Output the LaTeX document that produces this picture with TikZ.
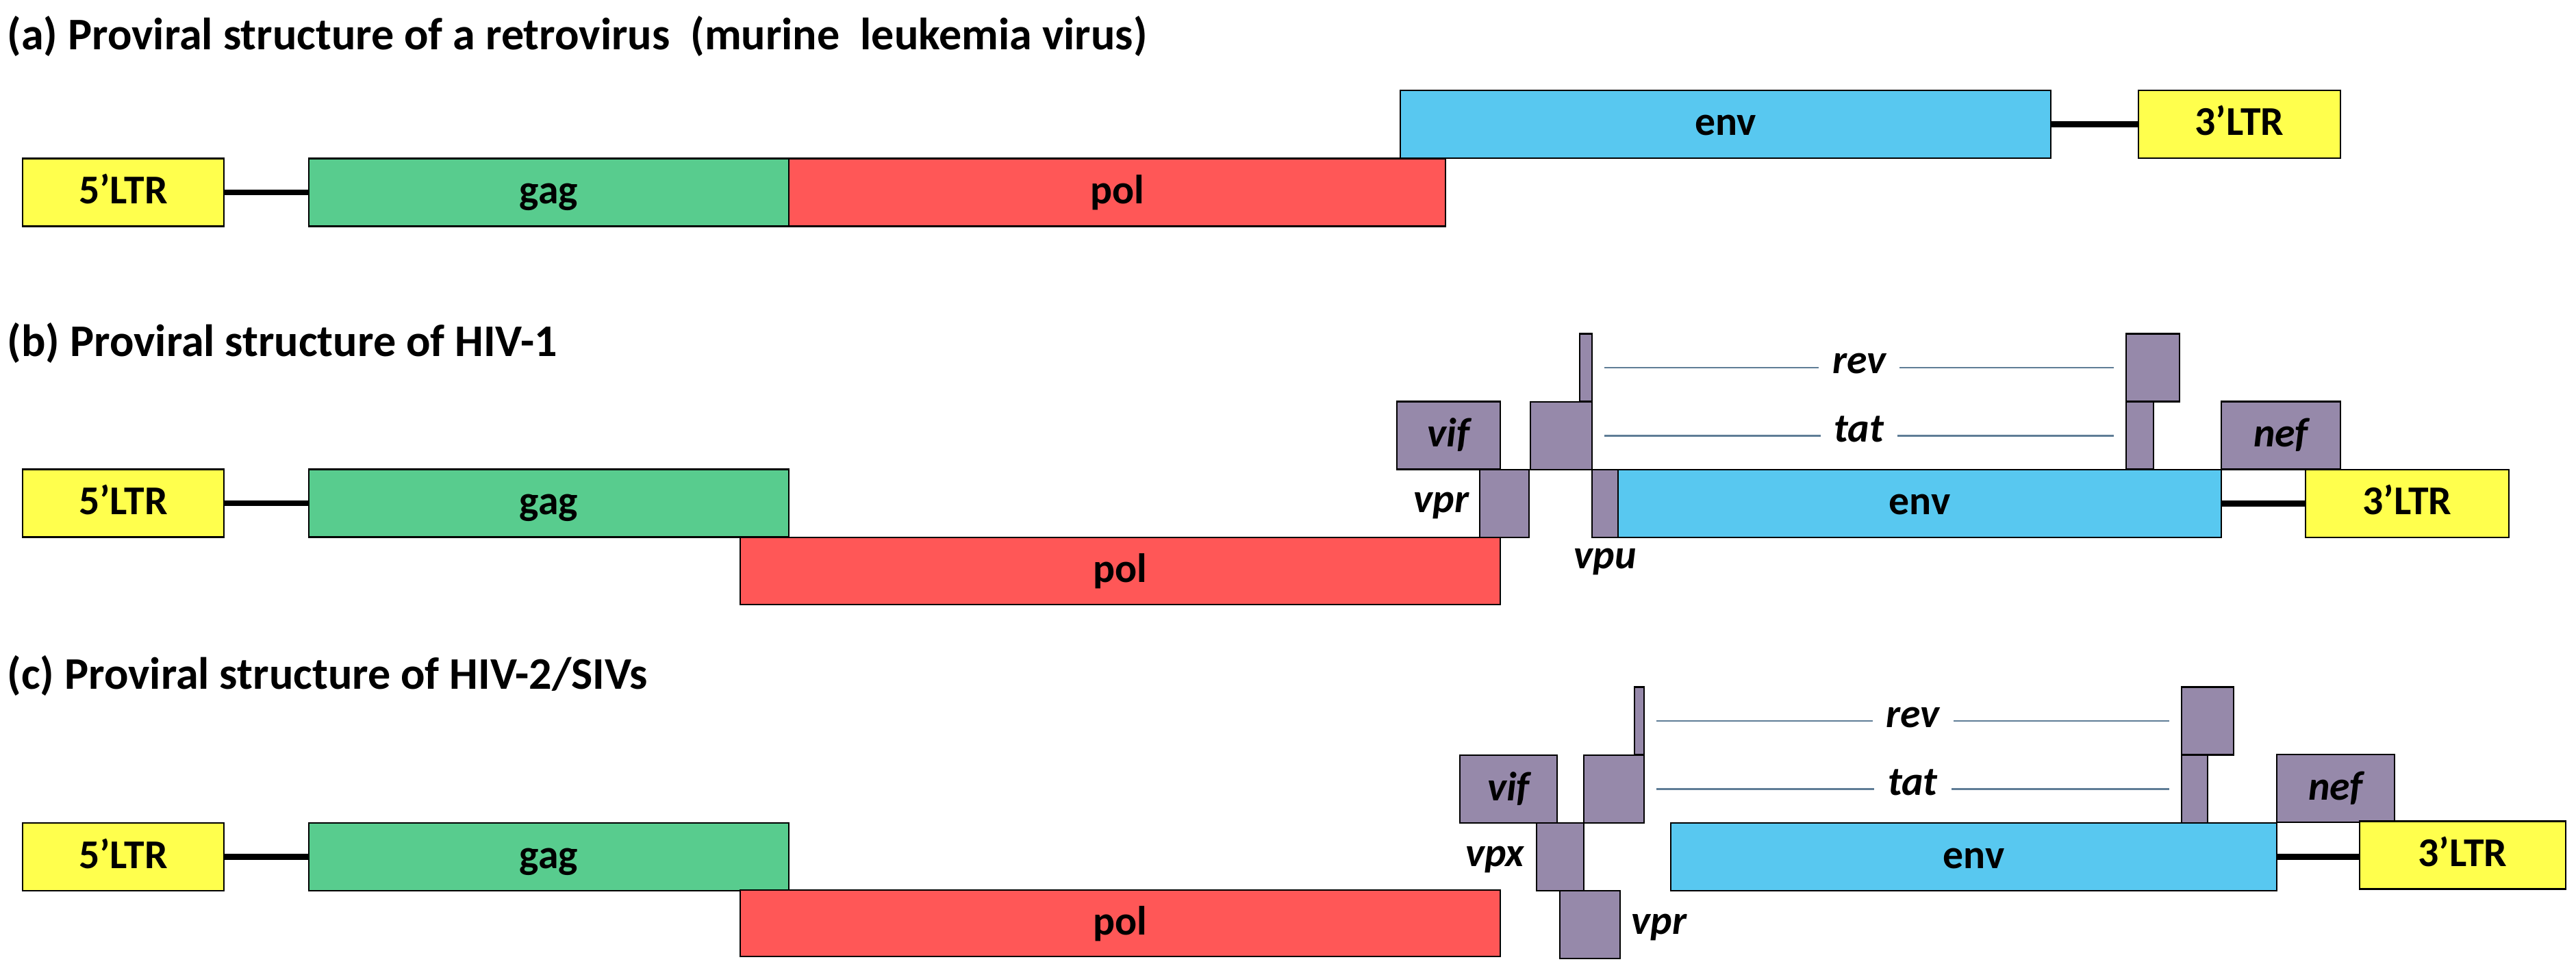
\documentclass[tikz,border=0pt]{standalone}
\usepackage{fontspec}
\setmainfont{Carlito}
\usepackage{tikz}
\usetikzlibrary{positioning}
\usepackage{xcolor}
\definecolor{ltryellow}{RGB}{255,255,77}
\definecolor{gaggreen}{RGB}{88,204,142}
\definecolor{polred}{RGB}{255,87,87}
\definecolor{envblue}{RGB}{88,200,240}
\definecolor{accpurple}{RGB}{150,137,170}
\definecolor{splicegray}{RGB}{95,125,150}

\begin{document}
\begin{tikzpicture}[
    gene/.style={draw, line width=0.6pt, inner sep=0pt, minimum height=0.99cm, text height=0.33cm, text depth=0pt, font=\fontsize{17}{20}\selectfont\bfseries},
    ltr/.style={gene, fill=ltryellow, minimum width=2.94cm},
    gagbox/.style={gene, fill=gaggreen, minimum width=7.01cm},
    polbox/.style={gene, fill=polred},
    envbox/.style={gene, fill=envblue},
    acc/.style={gene, fill=accpurple, font=\fontsize{17}{20}\selectfont\bfseries\itshape},
    acctext/.style={inner sep=0pt, text height=0.27cm, text depth=0pt, text=black, font=\fontsize{17}{20}\selectfont\bfseries\itshape},
    splicetext/.style={acctext, fill=white, inner xsep=0.2cm, text height=0.18cm},
    link/.style={line width=2.3pt},
    splice/.style={line width=0.8pt, color=splicegray, shorten <=0.17cm, shorten >=0.17cm},
    title/.style={anchor=base west, inner sep=0pt, font=\fontsize{18.8}{22}\selectfont\bfseries}
  ]
    \useasboundingbox (0,0) rectangle (37.62,-14.27);

    % (a) murine leukemia virus
    \node[title] (titleA) at (0.10,-0.73) {(a) Proviral structure of a retrovirus~~(murine~~leukemia virus)};
    \node[ltr] (fiveA) at (1.80,-2.81) {5'LTR};
    \node[gagbox] (gagA) at (8.015,-2.81) {gag};
    \node[polbox, minimum width=9.59cm] (polA) at (16.315,-2.81) {pol};
    \node[envbox, minimum width=9.50cm] (envA) at (25.20,-1.815) {env};
    \node[ltr, minimum width=2.95cm] (threeA) at (32.705,-1.815) {3'LTR};
    \draw[link] (fiveA.east) -- (gagA.west);
    \draw[link] (envA.east) -- (threeA.west);

    % (b) HIV-1
    \node[title] (titleB) at (0.10,-5.21) {(b) Proviral structure of HIV-1};
    \node[ltr] (fiveB) at (1.80,-7.35) {5'LTR};
    \node[gagbox] (gagB) at (8.015,-7.35) {gag};
    \node[polbox, minimum width=11.10cm, minimum height=0.98cm] (polB) at (16.36,-8.34) {pol};
    \node[acc, minimum width=1.51cm] (vifB) at (21.155,-6.36) {vif};
    \node[acc, minimum width=0.72cm] (vprB) at (21.97,-7.355) {};
    \node[acc, minimum width=0.90cm] (tatoneB) at (22.80,-6.365) {};
    \node[acc, minimum width=0.18cm] (revoneB) at (23.16,-5.37) {};
    \node[acc, minimum width=0.38cm] (vpuB) at (23.44,-7.355) {};
    \node[envbox, minimum width=8.81cm] (envB) at (28.035,-7.355) {env};
    \node[acc, minimum width=0.40cm] (tattwoB) at (31.25,-6.36) {};
    \node[acc, minimum width=0.78cm] (revtwoB) at (31.44,-5.37) {};
    \node[acc, minimum width=1.74cm] (nefB) at (33.31,-6.36) {nef};
    \node[ltr, minimum width=2.97cm] (threeB) at (35.155,-7.355) {3'LTR};
    \node[acctext, left=0.14cm of vprB] (vprtextB) {vpr};
    \node[acctext, below=0.17cm of vpuB] (vputextB) {vpu};
    \draw[link] (fiveB.east) -- (gagB.west);
    \draw[link] (envB.east) -- (threeB.west);
    \draw[splice] (revoneB.east) -- node[splicetext] (revB) {rev} (revoneB.east -| revtwoB.west);
    \draw[splice] (tatoneB.east) -- node[splicetext] (tatB) {tat} (tatoneB.east -| tattwoB.west);

    % (c) HIV-2/SIVs
    \node[title] (titleC) at (0.10,-10.06) {(c) Proviral structure of HIV-2/SIVs};
    \node[ltr] (fiveC) at (1.80,-12.515) {5'LTR};
    \node[gagbox] (gagC) at (8.015,-12.515) {gag};
    \node[polbox, minimum width=11.10cm, minimum height=0.97cm] (polC) at (16.36,-13.485) {pol};
    \node[acc, minimum width=1.42cm] (vifC) at (22.03,-11.525) {vif};
    \node[acc, minimum width=0.69cm] (vpxC) at (22.785,-12.515) {};
    \node[acc, minimum width=0.88cm] (vprC) at (23.22,-13.505) {};
    \node[acc, minimum width=0.88cm] (tatoneC) at (23.57,-11.525) {};
    \node[acc, minimum width=0.14cm] (revoneC) at (23.94,-10.53) {};
    \node[envbox, minimum width=8.85cm] (envC) at (28.825,-12.515) {env};
    \node[acc, minimum width=0.76cm] (revtwoC) at (32.24,-10.53) {};
    \node[acc, minimum width=0.38cm] (tattwoC) at (32.05,-11.525) {};
    \node[acc, minimum width=1.72cm] (nefC) at (34.11,-11.515) {nef};
    \node[ltr, minimum width=3.01cm] (threeC) at (35.965,-12.49) {3'LTR};
    \node[acctext, left=0.16cm of vpxC] (vpxtextC) {vpx};
    \node[acctext, right=0.15cm of vprC] (vprtextC) {vpr};
    \draw[link] (fiveC.east) -- (gagC.west);
    \draw[link] (envC.east) -- (envC.east -| threeC.west);
    \draw[splice] (revoneC.east) -- node[splicetext] (revC) {rev} (revoneC.east -| revtwoC.west);
    \draw[splice] (tatoneC.east) -- node[splicetext] (tatC) {tat} (tatoneC.east -| tattwoC.west);
\end{tikzpicture}
\end{document}
